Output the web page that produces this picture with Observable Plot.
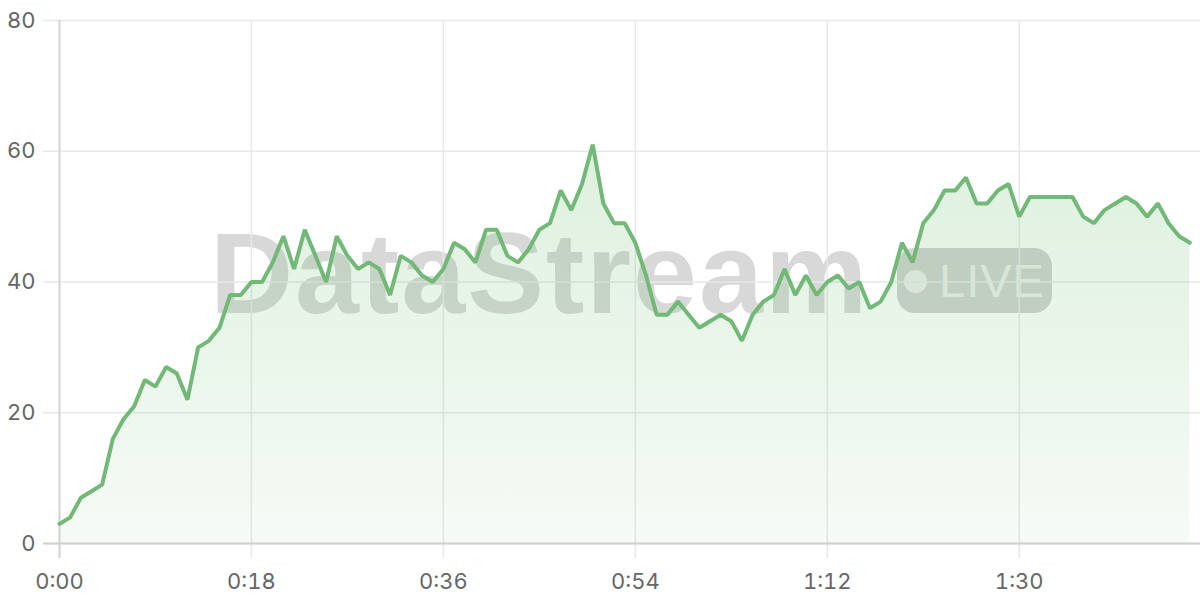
<!DOCTYPE html>
<html>
<head>
<meta charset="utf-8">
<script src="https://cdn.jsdelivr.net/npm/d3@7"></script>
<script src="https://cdn.jsdelivr.net/npm/@observablehq/plot@0.6"></script>
<style>
  html, body { margin: 0; padding: 0; background: #fff; }
  #wrap { position: relative; width: 1200px; height: 600px; overflow: hidden; }
  #wm { position: absolute; left: 0; top: 0; width: 1200px; height: 600px; pointer-events: none; }
  #wm .name { position: absolute; left: 210px; top: 216px; font-family: "Liberation Sans", Arial, sans-serif; font-weight: bold; font-size: 115px; line-height: 1; color: #d8d8d8; letter-spacing: 2px; white-space: nowrap; }
  #wm .live { position: absolute; left: 897px; top: 248px; width: 155px; height: 65px; border-radius: 18px; background: #d2d2d2; }
  #wm .dot { position: absolute; left: 7px; top: 22px; width: 23px; height: 23px; border-radius: 50%; background: #eeeeee; }
  #wm .txt { position: absolute; left: 42px; top: 9px; font-family: "Liberation Sans", Arial, sans-serif; font-size: 47px; line-height: 1; color: #eeeeee; letter-spacing: 1px; }
  #chart { position: absolute; left: 0; top: 0; }
  #chart svg { background: transparent !important; }
</style>
</head>
<body>
<div id="wrap">
  <div id="wm"><div class="name">DataStream</div><div class="live"><div class="dot"></div><div class="txt">LIVE</div></div></div>
  <div id="chart"></div>
</div>
<script>
// values, one per second starting at 0:00
const values = [3,4,7,8,9,16,19,21,25,24,27,26,22,30,31,33,38,38,40,40,
  43,47,42,48,44,40,47,44,42,43,42,38,44,43,41,40,42,46,45,43,
  48,48,44,43,45,48,49,54,51,55,61,52,49,49,46,41,35,35,37,35,
  33,34,35,34,31,35,37,38,42,38,41,38,40,41,39,40,36,37,40,46,
  43,49,51,54,54,56,52,52,54,55,50,53,53,53,53,53,50,49,51,52,
  53,52,50,52,49,47,46];
const xTicks = [0, 18, 36, 54, 72, 90];
const xTickLabels = ["0:00", "0:18", "0:36", "0:54", "1:12", "1:30"];
const yTicks = [0, 20, 40, 60, 80];

const data = values.map((v, i) => ({t: i, v}));
const labelOf = new Map(xTicks.map((t, i) => [t, xTickLabels[i]]));

const chart = Plot.plot({
  width: 1200,
  height: 600,
  marginTop: 20,
  marginBottom: 57,
  marginLeft: 59,
  marginRight: 0,
  style: {fontFamily: "Inter, 'Open Sans', sans-serif", fontSize: "22px", color: "#666", background: "transparent"},
  x: {domain: [0, 107]},
  y: {domain: [0, 80]},
  marks: [
    Plot.gridY(yTicks, {stroke: "#e8e8e8", strokeOpacity: 1, strokeWidth: 1.5, insetLeft: -16}),
    Plot.gridX(xTicks, {stroke: "#e8e8e8", strokeOpacity: 1, strokeWidth: 1.5, insetBottom: -15}),
    Plot.areaY(data, {x: "t", y: "v", fill: "url(#areaGrad)", curve: "linear"}),
    Plot.ruleX([0], {stroke: "#d4d4d4", strokeWidth: 2, insetBottom: -15}),
    Plot.ruleY([0], {stroke: "#d0d0d0", strokeWidth: 2, insetLeft: -16}),
    Plot.lineY(data, {x: "t", y: "v", stroke: "#72b977", strokeWidth: 4, strokeLinejoin: "miter", curve: "linear"}),
    Plot.axisY(yTicks, {tickSize: 0, tickPadding: 24, label: null, fill: "#666"}),
    Plot.axisX(xTicks, {tickSize: 0, tickPadding: 30, label: null, fill: "#666", tickFormat: d => labelOf.get(d)})
  ]
});

const defs = d3.select(chart).insert("defs", ":first-child");
const g = defs.append("linearGradient").attr("id", "areaGrad").attr("x1", 0).attr("y1", 0).attr("x2", 0).attr("y2", 1);
g.append("stop").attr("offset", "0%").attr("stop-color", "#66bb6a").attr("stop-opacity", 0.22);
g.append("stop").attr("offset", "100%").attr("stop-color", "#66bb6a").attr("stop-opacity", 0.06);

document.getElementById("chart").appendChild(chart);
</script>
</body>
</html>
